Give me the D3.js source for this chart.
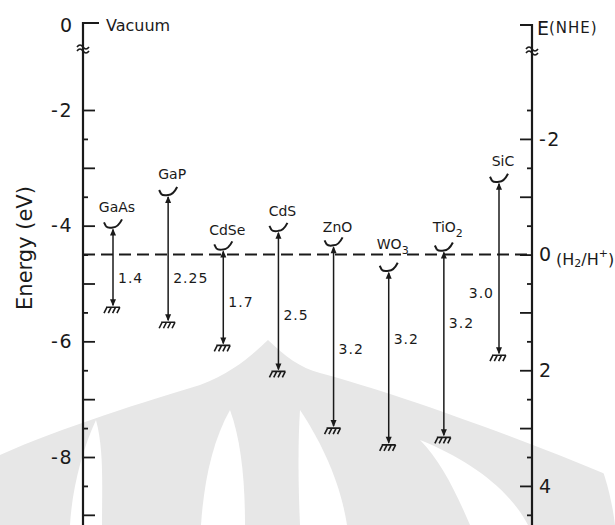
<!DOCTYPE html>
<html>
<head>
<meta charset="utf-8">
<script src="https://cdn.jsdelivr.net/npm/d3@7"></script>
<style>
  body { margin: 0; background: #fff; }
  svg { display: block; font-family: "DejaVu Sans", sans-serif; }
</style>
</head>
<body>
<svg id="chart" width="615" height="525"></svg>
<script>
// band edges (eV vs vacuum)
const materials = ["GaAs", "GaP", "CdSe", "CdS", "ZnO", "WO3", "TiO2", "SiC"];
const conductionBand = [-4.03, -3.47, -4.41, -4.09, -4.34, -4.78, -4.43, -3.24];
const valenceBand = [-5.41, -5.67, -6.07, -6.52, -7.50, -7.79, -7.66, -6.24];
const gapLabels = ["1.4", "2.25", "1.7", "2.5", "3.2", "3.2", "3.2", "3.0"];
const vacuumTicks = [-2, -4, -6, -8];
const nheTicks = [-2, 0, 2, 4];
const redoxLevel = -4.5; // H2/H+ vs vacuum

const svg = d3.select("#chart");
const ink = "#1a1a1a";
const axL = 83, axR = 532;

// faint watermark in the background
const wm = svg.append("g").attr("stroke", "none");
wm.append("path").attr("fill", "#e7e7e7")
  .attr("d", "M0,455 C60,428 150,400 200,385 C235,372 255,352 268,340 C285,356 300,368 320,373 C390,392 500,430 615,478 L615,525 L0,525 Z");
wm.append("g").attr("fill", "#fff").selectAll("path").data([
  "M96,420 C82,450 72,490 70,525 L102,525 C102,485 104,450 96,420 Z",
  "M230,410 C213,440 204,480 201,525 L245,525 C245,480 241,440 230,410 Z",
  "M300,410 C320,440 340,480 347,525 L300,525 C298,480 298,440 300,410 Z",
  "M420,440 C470,460 510,490 528,525 L470,525 C455,490 440,460 420,440 Z",
  "M592,446 C605,470 612,500 615,525 L615,440 Z"
]).join("path").attr("d", d => d);

// scales
const y = d3.scaleLinear().domain([-2, -8]).range([110, 457]);
const yN = d3.scaleLinear().domain([0, 4]).range([y(redoxLevel), y(redoxLevel - 4)]);
const x = d3.scalePoint().domain(materials).range([113, 499]);

// left axis (vacuum scale)
const gL = svg.append("g").attr("transform", `translate(${axL},0)`);
gL.call(d3.axisLeft(y).tickValues(d3.range(-2, -9.01, -1)).tickSize(-12).tickPadding(10)
  .tickFormat(d => vacuumTicks.includes(d) ? String(d) : ""));
gL.append("g").call(d3.axisLeft(y).tickValues(d3.range(-2.5, -9.6, -1)).tickSize(-5).tickFormat(""));

// right axis (NHE scale)
const gR = svg.append("g").attr("transform", `translate(${axR},0)`);
gR.call(d3.axisRight(yN).tickValues(d3.range(-2, 4.01, 1)).tickSize(-12).tickPadding(7)
  .tickFormat(d => nheTicks.includes(d) ? String(d) : ""));
gR.append("g").call(d3.axisRight(yN).tickValues(d3.range(-2.5, 4.6, 1)).tickSize(-5).tickFormat(""));

svg.selectAll(".domain").remove();
svg.selectAll(".tick line").attr("stroke", ink).attr("stroke-width", 1.8);
svg.selectAll(".tick text").attr("fill", ink).attr("font-size", 19)
  .attr("font-family", "DejaVu Sans").attr("letter-spacing", 1.5);

// axis lines with top brackets and break marks
svg.append("path").attr("d", `M${axL + 16},23 H${axL} V525`)
  .attr("fill", "none").attr("stroke", ink).attr("stroke-width", 2.2);
svg.append("path").attr("d", `M${axR - 12},25 H${axR} V525`)
  .attr("fill", "none").attr("stroke", ink).attr("stroke-width", 2.2);
[[axL, 47], [axR, 49]].forEach(([bx, by]) => {
  [0, 4].forEach(o => {
    svg.append("path")
      .attr("d", `M${bx - 6},${by + o} q3,-4 6,0 t6,0`)
      .attr("fill", "none").attr("stroke", ink).attr("stroke-width", 1.6);
  });
});

svg.append("text").attr("x", 72).attr("y", 25).attr("text-anchor", "end")
  .attr("dominant-baseline", "central").attr("font-size", 19).attr("fill", ink).text("0");
svg.append("text").attr("x", 106).attr("y", 25).attr("dominant-baseline", "central")
  .attr("font-size", 16).attr("fill", ink).text("Vacuum");
const eT = svg.append("text").attr("x", 537).attr("y", 28).attr("dominant-baseline", "central")
  .attr("fill", ink).attr("font-size", 19).text("E");
eT.append("tspan").attr("font-size", 15).attr("letter-spacing", 1).text("(NHE)");

// y-axis title
svg.append("text").attr("transform", "translate(25,248) rotate(-90)")
  .attr("text-anchor", "middle").attr("dominant-baseline", "central")
  .attr("font-size", 21).attr("fill", ink).text("Energy (eV)");

// H2/H+ redox level
svg.append("line").attr("x1", axL).attr("x2", axR)
  .attr("y1", y(redoxLevel)).attr("y2", y(redoxLevel))
  .attr("stroke", ink).attr("stroke-width", 2).attr("stroke-dasharray", "12,6");
const hT = svg.append("text").attr("x", 556).attr("y", y(redoxLevel) + 4)
  .attr("dominant-baseline", "central").attr("font-size", 16).attr("fill", ink);
hT.append("tspan").text("(H");
hT.append("tspan").attr("font-size", 11).attr("dy", 4).text("2");
hT.append("tspan").attr("dy", -4).text("/H");
hT.append("tspan").attr("font-size", 11).attr("dy", -6).text("+");
hT.append("tspan").attr("dy", 6).text(")");

// where the gap value sits along each line (fraction from CB to VB),
// and how far each name sits above its cup
const labelFrac = [0.64, 0.65, 0.55, 0.6, 0.57, 0.39, 0.39, 0.64];
const nameLift = [15, 16, 14, 15, 13, 22, 19, 16];

const bands = svg.append("g").selectAll("g").data(materials).join("g")
  .attr("transform", d => `translate(${x(d)},0)`);

bands.append("line")
  .attr("y1", (d, i) => y(conductionBand[i]) + 2)
  .attr("y2", (d, i) => y(valenceBand[i]) - 2)
  .attr("stroke", ink).attr("stroke-width", 1.5);

// conduction band cup and upward arrow
bands.append("path")
  .attr("d", (d, i) => {
    const c = y(conductionBand[i]);
    return `M-9,${c - 5} l2,4 M-7,${c - 1} Q-5,${c + 1} 0,${c} Q5,${c} 9,${c - 8}`;
  })
  .attr("fill", "none").attr("stroke", ink).attr("stroke-width", 2);
bands.append("path")
  .attr("d", (d, i) => { const c = y(conductionBand[i]) + 1; return `M0,${c} L-3,${c + 7} L3,${c + 7} Z`; })
  .attr("fill", ink);

// valence band ground symbol and downward arrow
bands.append("path")
  .attr("d", (d, i) => { const v = y(valenceBand[i]) - 1; return `M0,${v} L-3,${v - 7} L3,${v - 7} Z`; })
  .attr("fill", ink);
bands.append("path")
  .attr("d", (d, i) => {
    const v = y(valenceBand[i]);
    let p = `M-7,${v} H7`;
    for (let k = 0; k < 4; k++) p += ` M${-6 + k * 4.3},${v} l-3,6`;
    return p;
  })
  .attr("fill", "none").attr("stroke", ink).attr("stroke-width", 1.6);

// material names (digits as subscripts)
bands.each(function (d, i) {
  const t = d3.select(this).append("text")
    .attr("x", 4).attr("y", y(conductionBand[i]) - nameLift[i])
    .attr("text-anchor", "middle").attr("font-size", 14).attr("fill", ink);
  d.match(/[A-Za-z]+|\d+/g).forEach(part => {
    if (/\d/.test(part)) t.append("tspan").attr("font-size", 11).attr("dy", 5).text(part);
    else t.append("tspan").text(part);
  });
});

// band gap values
bands.append("text")
  .attr("x", d => d === "SiC" ? -5 : 5)
  .attr("text-anchor", d => d === "SiC" ? "end" : "start")
  .attr("y", (d, i) => y(conductionBand[i]) + labelFrac[i] * (y(valenceBand[i]) - y(conductionBand[i])))
  .attr("dominant-baseline", "central")
  .attr("font-size", 14).attr("letter-spacing", 1).attr("fill", ink)
  .text((d, i) => gapLabels[i]);
</script>
</body>
</html>
